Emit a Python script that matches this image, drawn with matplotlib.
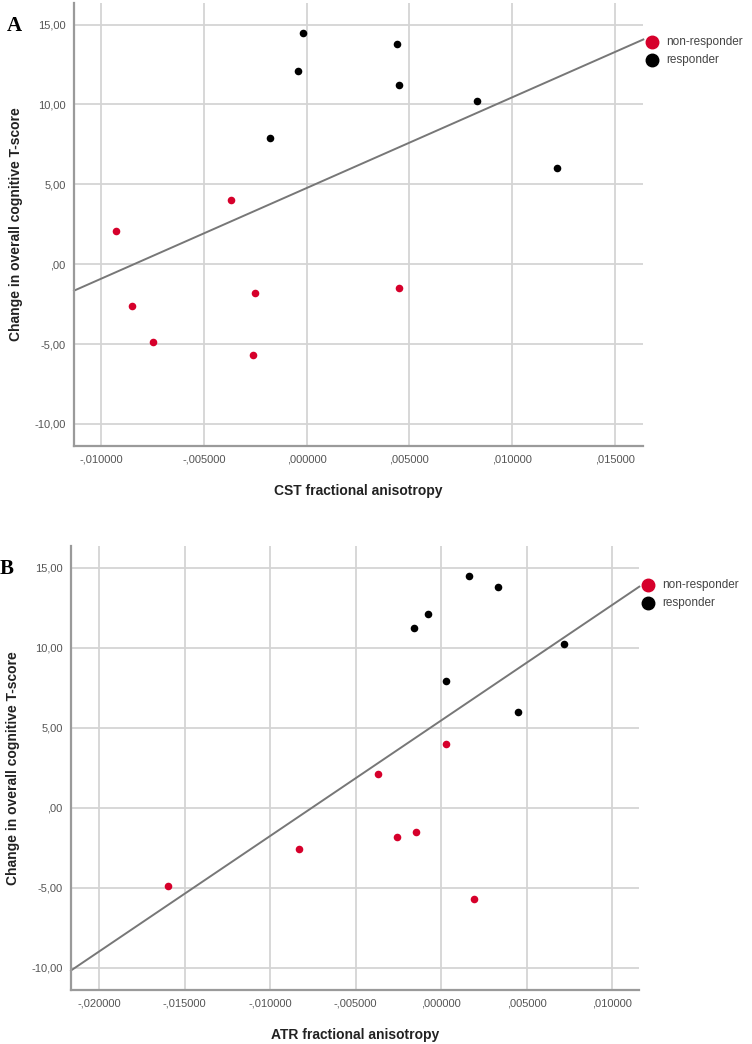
import matplotlib
matplotlib.use("Agg")
import matplotlib.pyplot as plt
import numpy as np
from matplotlib.ticker import FuncFormatter

plt.rcParams['font.family'] = ['Liberation Sans', 'DejaVu Sans']

# change in overall cognitive T-score (same patients in both panels)
resp_y = [14.5, 13.8, 12.1, 11.2, 10.2, 7.9, 6.0]
nonresp_y = [4.0, 2.1, -4.9, -2.6, -1.8, -1.5, -5.7]

# panel A: CST fractional anisotropy
cst_resp = [-0.0002, 0.0044, -0.0004, 0.0045, 0.0083, -0.0018, 0.0122]
cst_nonresp = [-0.0037, -0.0093, -0.0075, -0.0085, -0.0025, 0.0045, -0.0026]

# panel B: ATR fractional anisotropy
atr_resp = [0.0016, 0.0033, -0.0008, -0.0016, 0.0072, 0.0003, 0.0045]
atr_nonresp = [0.0003, -0.0037, -0.0160, -0.0083, -0.0026, -0.0015, 0.0019]

red = '#d6002b'
grid_c = '#d4d4d4'
spine_c = '#9a9a9a'
tick_c = '#555555'


def spss_fmt(v, nd):
    s = f"{v:.{nd}f}"
    neg = s.startswith('-')
    s = s.lstrip('-')
    if s.startswith('0.'):
        s = s[1:]
    s = s.replace('.', ',')
    return ('-' if neg else '') + s


def panel(ax, xr, xn, xlim, xticks, xlabel, letter, lx, ly, leg_x, leg_y):
    xall = np.array(xr + xn)
    yall = np.array(resp_y + nonresp_y)
    z = np.polyfit(xall, yall, 1)
    fit = np.poly1d(z)
    xs = np.array(xlim)
    ax.plot(xs, fit(xs), color='#777777', lw=1.4, zorder=2, clip_on=False)
    ax.scatter(xn, nonresp_y, s=30, color=red, zorder=3, linewidths=0)
    ax.scatter(xr, resp_y, s=30, color='black', zorder=3, linewidths=0)
    ax.set_xlim(xlim)
    ax.set_ylim(-11.38, 16.35)
    ax.set_xticks(xticks)
    ax.set_yticks([-10, -5, 0, 5, 10, 15])
    ax.xaxis.set_major_formatter(FuncFormatter(lambda v, p: spss_fmt(v, 6)))
    ax.yaxis.set_major_formatter(FuncFormatter(lambda v, p: spss_fmt(v, 2)))
    ax.grid(True, color=grid_c, lw=1.3)
    ax.set_axisbelow(True)
    for s in ['top', 'right']:
        ax.spines[s].set_visible(False)
    for s in ['left', 'bottom']:
        ax.spines[s].set_color(spine_c)
        ax.spines[s].set_linewidth(1.6)
    ax.tick_params(length=0, labelsize=8, labelcolor=tick_c, pad=6)
    ax.set_xlabel(xlabel, fontsize=10, fontweight='bold', color='#222222', labelpad=14)
    ax.set_ylabel('Change in overall cognitive T-score', fontsize=10,
                  fontweight='bold', color='#222222', labelpad=8)
    fig.text(lx, ly, letter, fontsize=15, fontweight='bold', family='Liberation Serif',
             ha='left', va='top')
    fig.lines.append(plt.Line2D([leg_x], [leg_y], marker='o', ms=9, color=red,
                                transform=fig.transFigure, linestyle='none'))
    fig.lines.append(plt.Line2D([leg_x], [leg_y - 18 / 1044], marker='o', ms=9, color='black',
                                transform=fig.transFigure, linestyle='none'))
    fig.text(leg_x + 14 / 752, leg_y, 'non-responder', fontsize=8.5, color='#444444', va='center')
    fig.text(leg_x + 14 / 752, leg_y - 18 / 1044, 'responder', fontsize=8.5, color='#444444', va='center')


fig = plt.figure(figsize=(7.52, 10.44), dpi=100)
ax1 = fig.add_axes([74 / 752, 1 - 446 / 1044, (643.3 - 74) / 752, (446 - 3) / 1044])
ax2 = fig.add_axes([71 / 752, 1 - 990 / 1044, (639.3 - 71) / 752, (990 - 546) / 1044])

panel(ax1, cst_resp, cst_nonresp, (-0.01133, 0.01639),
      [-0.010, -0.005, 0.0, 0.005, 0.010, 0.015], 'CST fractional anisotropy',
      'A', 7 / 752, 1 - 16 / 1044, 652 / 752, 1 - 42 / 1044)
panel(ax2, atr_resp, atr_nonresp, (-0.02165, 0.01158),
      [-0.020, -0.015, -0.010, -0.005, 0.0, 0.005, 0.010], 'ATR fractional anisotropy',
      'B', 0 / 752, 1 - 559 / 1044, 648 / 752, 1 - 585 / 1044)

fig.savefig('out.png', dpi=100)
